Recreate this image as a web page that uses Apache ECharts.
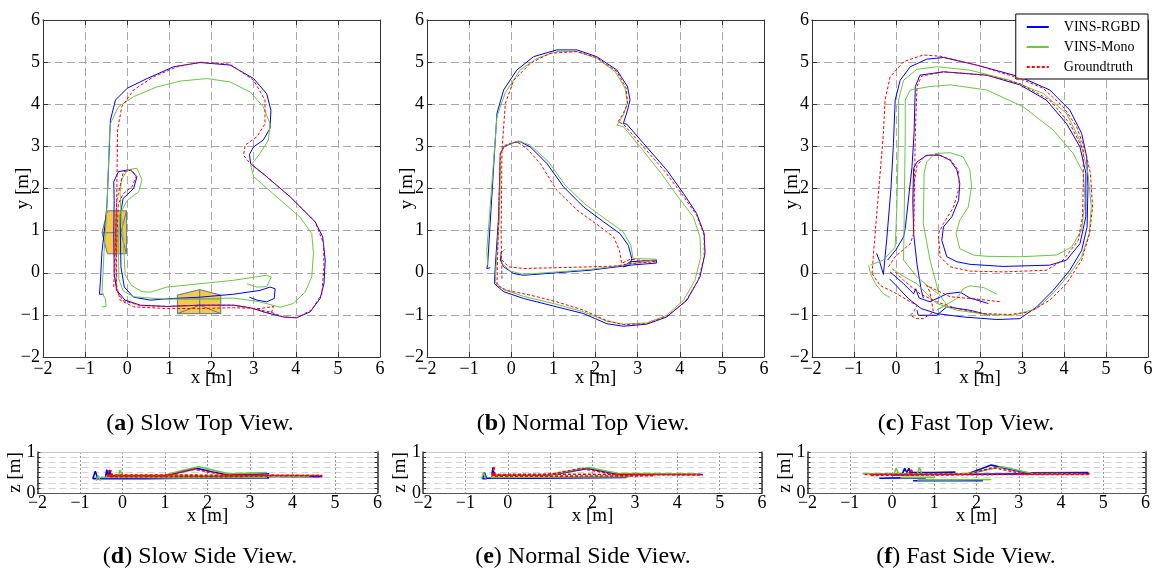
<!DOCTYPE html>
<html>
<head>
<meta charset="utf-8">
<script src="https://cdn.jsdelivr.net/npm/echarts@6/dist/echarts.min.js"></script>
<style>
html,body{margin:0;padding:0;background:#fff;}
#chart{width:1156px;height:574px;}
</style>
</head>
<body>
<div id="chart"></div>
<script>
// ---- Axis ticks ----
const topTicks = [-2, -1, 0, 1, 2, 3, 4, 5, 6];
const zTicks = [0, 1];

// ---- Slow run, top view (x, y in metres), one array per continuous piece ----
const slowTopRGBD = [
  [[-0.56,-0.51],[-0.66,-0.51],[-0.64,-0.24],[-0.6,0.5],[-0.52,1.2],[-0.48,1.64],[-0.44,2.6],[-0.4,3.62],[-0.28,4.1],[0,4.38],[0.47,4.61],[1.1,4.89],[1.73,4.99],[2.44,4.93],[3.0,4.61],[3.31,4.25],[3.41,3.86],[3.39,3.43],[3.23,3.15],[3.0,2.99],[2.9,2.81],[2.93,2.59],[3.31,2.28],[3.87,1.8],[4.46,1.21],[4.64,0.85],[4.7,0.3],[4.67,-0.26],[4.58,-0.61],[4.34,-0.93],[4.02,-1.07],[3.71,-1.05],[3.31,-0.95],[2.92,-0.83],[2.52,-0.77],[1.73,-0.77],[0.94,-0.8],[0.31,-0.77],[-0.05,-0.65],[-0.25,-0.42],[-0.31,-0.02],[-0.32,0.93],[-0.31,1.72],[-0.32,2.16],[-0.21,2.4],[0.07,2.45],[0.23,2.28],[0.15,2.0],[-0.1,1.76],[-0.17,1.33],[-0.15,0.14],[-0.07,-0.34],[0.15,-0.58],[0.55,-0.65],[1.1,-0.61],[1.73,-0.58],[2.52,-0.51],[3.15,-0.42],[3.39,-0.34],[3.51,-0.38],[3.49,-0.61],[3.31,-0.69],[3.08,-0.65],[2.9,-0.58]]
];
const slowTopMono = [
  [[-0.6,-0.81],[-0.5,-0.8],[-0.52,-0.61],[-0.6,-0.49],[-0.55,0.5],[-0.48,1.6],[-0.42,3.3],[-0.4,3.54],[-0.21,3.94],[0.15,4.18],[0.7,4.41],[1.26,4.55],[1.89,4.61],[2.44,4.53],[2.92,4.29],[3.23,3.94],[3.39,3.54],[3.35,3.15],[3.15,2.83],[2.93,2.55],[3.0,2.28],[3.55,1.8],[4.1,1.32],[4.38,0.93],[4.42,0.46],[4.38,-0.1],[4.22,-0.46],[3.94,-0.73],[3.63,-0.82],[3.15,-0.69],[2.52,-0.6],[1.6,-0.62],[0.94,-0.63],[0.15,-0.57],[-0.1,-0.43],[-0.2,-0.15],[-0.21,0.9],[-0.17,1.4],[0.0,1.72],[0.27,1.92],[0.35,2.2],[0.23,2.48],[0.0,2.44],[-0.14,2.2],[-0.17,1.9],[-0.15,1.5],[-0.1,0.9],[-0.05,-0.05],[0.1,-0.3],[0.35,-0.45],[0.55,-0.46],[0.94,-0.34],[1.73,-0.26],[2.52,-0.18],[3.31,-0.06],[3.42,-0.1],[3.31,-0.33],[3.08,-0.34],[2.84,-0.26]]
];
const slowTopGT = [
  [[-0.32,-0.34],[-0.28,0.9],[-0.25,1.72],[-0.23,3.39],[-0.13,3.94],[0.15,4.34],[0.62,4.65],[1.18,4.89],[1.73,5.0],[2.44,4.95],[3.0,4.57],[3.27,4.1],[3.27,3.54],[3.08,3.23],[2.8,3.03],[2.76,2.79],[2.92,2.59],[3.31,2.28],[3.87,1.8],[4.46,1.21],[4.66,0.69],[4.67,0.14],[4.62,-0.5],[4.38,-0.88],[4.02,-1.07],[3.71,-1.05],[3.39,-0.93],[3.0,-0.85],[2.52,-0.77],[1.73,-0.77],[0.94,-0.8],[0.31,-0.78],[-0.1,-0.66],[-0.26,-0.42],[-0.28,0.93],[-0.25,1.72],[-0.09,2.4],[0.11,2.44],[0.21,2.28],[0.11,2.04],[-0.09,1.88],[-0.21,1.64],[-0.25,0.7],[-0.26,-0.26],[-0.17,-0.65],[0.15,-0.81],[0.94,-0.85],[1.73,-0.85],[2.52,-0.83],[3.15,-0.85],[3.47,-0.8],[3.43,-0.93],[3.23,-0.95]]
];

// ---- Normal run, top view ----
const normalTopRGBD = [
  [[-0.5,0.12],[-0.58,0.1],[-0.56,0.2],[-0.48,1.5],[-0.34,3.78],[-0.18,4.34],[0.13,4.81],[0.53,5.13],[1.08,5.29],[1.56,5.29],[2.03,5.13],[2.51,4.81],[2.76,4.42],[2.82,4.1],[2.76,3.86],[2.66,3.54],[2.74,3.53],[3.14,3.07],[3.69,2.44],[4.09,1.88],[4.4,1.41],[4.58,0.93],[4.6,0.46],[4.48,-0.1],[4.17,-0.65],[3.69,-1.05],[3.22,-1.22],[2.66,-1.27],[2.27,-1.21],[1.72,-0.97],[1.08,-0.81],[0.29,-0.61],[-0.18,-0.45],[-0.4,-0.26],[-0.38,0.14],[-0.3,1.33],[-0.26,2.83],[-0.18,2.99],[0.06,3.09],[0.21,3.11],[0.45,2.99],[0.85,2.59],[1.24,2.04],[1.72,1.56],[2.19,1.21],[2.58,0.93],[2.78,0.65],[2.86,0.34],[2.82,0.18],[2.66,0.14],[2.82,0.26],[3.45,0.3],[3.45,0.23],[2.82,0.18],[1.87,0.06],[1.08,0.0],[0.29,-0.06],[0.06,-0.02],[-0.18,0.14],[-0.26,0.3],[-0.24,0.5]]
];
const normalTopMono = [
  [[-0.56,0.18],[-0.58,0.53],[-0.34,3.7],[-0.14,4.28],[0.21,4.81],[0.61,5.09],[1.08,5.25],[1.56,5.25],[2.03,5.09],[2.47,4.77],[2.7,4.38],[2.76,4.02],[2.66,3.74],[2.51,3.5],[2.66,3.47],[3.06,2.99],[3.56,2.36],[3.96,1.8],[4.32,1.33],[4.48,0.85],[4.5,0.38],[4.36,-0.18],[4.09,-0.65],[3.69,-1.01],[3.22,-1.19],[2.66,-1.22],[2.27,-1.15],[1.72,-0.93],[1.08,-0.75],[0.29,-0.56],[-0.18,-0.4],[-0.38,-0.22],[-0.36,0.14],[-0.28,1.33],[-0.25,2.87],[-0.14,3.02],[0.17,3.13],[0.45,3.03],[0.89,2.63],[1.28,2.08],[1.75,1.63],[2.27,1.25],[2.66,0.97],[2.84,0.65],[2.89,0.34],[3.45,0.32],[3.49,0.28],[2.82,0.2],[1.87,0.08],[1.08,0.02],[0.29,-0.04],[-0.02,0.04],[-0.22,0.22],[-0.25,0.46],[-0.14,0.57]]
];
const normalTopGT = [
  [[-0.22,-0.14],[-0.24,0.93],[-0.22,2.91],[-0.14,4.02],[0.06,4.57],[0.45,4.97],[0.92,5.21],[1.56,5.25],[2.03,5.11],[2.51,4.77],[2.73,4.38],[2.76,4.02],[2.66,3.78],[2.53,3.58],[2.66,3.53],[3.1,3.03],[3.65,2.4],[4.07,1.84],[4.4,1.37],[4.58,0.89],[4.58,0.38],[4.44,-0.18],[4.13,-0.69],[3.69,-1.03],[3.22,-1.21],[2.66,-1.23],[2.27,-1.14],[1.72,-0.89],[1.08,-0.69],[0.45,-0.53],[-0.1,-0.42],[-0.34,-0.3],[-0.32,0.53],[-0.26,2.83],[-0.14,3.03],[0.13,3.11],[0.37,2.95],[0.69,2.59],[1.08,1.96],[1.56,1.49],[2.11,1.09],[2.43,0.85],[2.57,0.53],[2.62,0.22],[2.82,0.32],[3.45,0.26],[2.82,0.22],[2.5,0.16],[1.87,0.14],[1.08,0.12],[0.29,0.1],[-0.06,0.14],[-0.22,0.3]]
];

// ---- Fast run, top view ----
const fastTopRGBD = [
  [[-0.46,0.46],[-0.4,0.3],[-0.3,-0.04],[-0.22,0.8],[-0.12,2.0],[-0.06,3.07],[-0.02,4.1],[0.1,4.57],[0.34,4.89],[0.73,5.07],[1.13,5.11],[1.92,4.93],[2.95,4.65],[3.66,4.34],[4.14,3.86],[4.42,3.31],[4.54,2.75],[4.57,2.04],[4.55,1.09],[4.42,0.53],[4.14,0.06],[3.74,-0.42],[3.35,-0.81],[2.95,-1.09],[2.4,-1.11],[1.6,-1.05],[0.97,-0.97],[0.6,-0.85],[0.3,-0.62],[0.0,-0.3],[-0.15,-0.15]],
  [[-0.2,0.3],[0.0,0.55],[0.18,0.85],[0.22,1.05],[0.38,2.5],[0.43,3.31],[0.46,4.42],[0.57,4.69],[1.13,4.77],[2.16,4.69],[2.95,4.46],[3.58,4.1],[4.06,3.54],[4.38,2.99],[4.52,2.36],[4.52,1.33],[4.38,0.69],[4.06,0.3],[3.66,0.18],[2.55,0.15],[1.76,0.2],[1.45,0.26],[1.21,0.38],[1.09,0.77],[1.13,1.09],[1.33,1.33],[1.49,1.72],[1.52,2.12],[1.45,2.44],[1.29,2.67],[1.05,2.79],[0.73,2.79],[0.5,2.63],[0.42,2.48],[0.4,1.72],[0.42,0.93],[0.5,0.2],[0.6,-0.4],[0.65,-0.6]],
  [[-0.14,0.02],[0.18,-0.26],[0.42,-0.5],[0.47,-0.38],[0.55,-0.6],[0.81,-0.69],[1.21,-0.5],[1.53,-0.46],[1.76,-0.6],[2.2,-0.73]],
  [[0.5,-0.89],[0.53,-1.01],[0.97,-1.01],[1.21,-0.81],[1.76,-0.89],[2.24,-1.01]]
];
const fastTopMono = [
  [[-0.61,0.18],[-0.3,0.3],[-0.02,0.61],[0.02,1.56],[0.06,3.31],[0.06,4.1],[0.18,4.57],[0.5,4.83],[0.97,4.89],[1.76,4.81],[2.71,4.57],[3.5,4.26],[4.06,3.78],[4.38,3.15],[4.57,2.36],[4.65,1.56],[4.6,0.93],[4.42,0.38],[4.14,-0.02],[3.74,-0.49],[3.35,-0.85],[2.79,-1.01],[2.16,-0.99],[1.45,-0.89],[0.97,-0.73],[0.73,-0.5],[0.5,-0.26],[0.2,-0.1],[-0.1,0.1]],
  [[0.97,-0.89],[1.2,-0.75],[1.01,-0.49],[0.97,-0.3],[0.81,0.3],[0.65,1.17],[0.67,2.36],[0.73,2.63],[0.93,2.83],[1.29,2.85],[1.6,2.75],[1.76,2.44],[1.8,2.04],[1.72,1.56],[1.52,1.25],[1.43,0.93],[1.52,0.57],[1.84,0.42],[2.16,0.39],[2.95,0.38],[3.82,0.42],[4.18,0.61],[4.42,1.01],[4.5,1.72],[4.46,2.36],[4.22,2.83],[3.74,3.39],[3.03,3.94],[2.16,4.34],[1.29,4.46],[0.81,4.42],[0.34,4.34],[0.22,4.1],[0.22,3.31],[0.19,0.93],[0.18,0.3],[0.5,-0.1],[0.8,-0.35],[1.0,-0.5]],
  [[-0.65,0.18],[-0.61,-0.02],[-0.49,-0.26],[-0.3,-0.5],[-0.14,-0.59]],
  [[0.97,-0.89],[1.45,-0.61],[1.6,-0.38],[1.76,-0.31],[2.08,-0.35],[2.4,-0.51]]
];
const fastTopGT = [
  [[-0.57,-0.02],[-0.53,0.53],[-0.3,3.31],[-0.26,4.1],[-0.14,4.65],[0.18,5.01],[0.65,5.17],[1.05,5.14],[1.92,4.93],[2.95,4.61],[3.5,4.38],[3.98,3.94],[4.3,3.47],[4.5,2.91],[4.63,2.36],[4.68,1.56],[4.61,0.93],[4.42,0.3],[4.06,-0.26],[3.66,-0.65],[3.19,-0.93],[2.71,-0.99],[2.08,-0.97],[1.45,-0.85],[0.97,-0.69],[0.57,-0.5],[0.18,-0.18],[-0.06,0.06]],
  [[-0.18,0.14],[-0.02,0.38],[0.34,0.69],[0.42,0.93],[0.46,3.31],[0.5,4.42],[0.61,4.67],[1.13,4.77],[2.16,4.69],[2.95,4.49],[3.66,4.1],[4.14,3.54],[4.46,2.91],[4.46,2.12],[4.44,1.33],[4.34,0.77],[3.98,0.3],[3.58,0.06],[2.55,0.02],[1.76,0.04],[1.29,0.14],[1.05,0.38],[1.01,0.93],[1.13,1.17],[1.37,1.56],[1.51,2.04],[1.48,2.44],[1.29,2.69],[0.97,2.81],[0.69,2.77],[0.5,2.55],[0.43,2.12],[0.42,0.93]],
  [[-0.57,-0.02],[-0.38,-0.3],[0.02,-0.5],[0.34,-0.69],[0.5,-0.77],[0.42,-0.93],[0.34,-1.01],[0.5,-1.09],[0.65,-1.09],[0.89,-0.93],[0.81,-0.46],[0.73,-0.3],[0.89,-0.38],[1.29,-0.57],[1.76,-0.61],[2.16,-0.65],[2.48,-0.69]]
];

// ---- Side views (x, z in metres) ----
const slowSideRGBD = [
  [[-0.7,0.35],[-0.64,0.53],[-0.58,0.35],[-0.7,0.35]],
  [[-0.4,0.38],[-0.37,0.57],[-0.34,0.4],[-0.3,0.56],[-0.27,0.4]],
  [[-0.6,0.35],[0.5,0.35],[1.5,0.36],[2.5,0.36],[3.45,0.37]],
  [[-0.3,0.4],[0.9,0.4],[1.4,0.52],[1.75,0.6],[2.1,0.52],[2.5,0.44],[3.45,0.47]],
  [[-0.3,0.42],[1,0.42],[2.5,0.41],[4.4,0.4],[4.7,0.4]]
];
const slowSideMono = [
  [[-0.62,0.3],[-0.57,0.42],[-0.52,0.3]],
  [[-0.1,0.4],[-0.06,0.56],[0,0.42]],
  [[-0.5,0.38],[0.5,0.38],[1.5,0.37],[3.4,0.38]],
  [[-0.2,0.41],[0.9,0.41],[1.4,0.55],[1.8,0.64],[2.2,0.54],[2.5,0.47],[3.4,0.5]],
  [[-0.2,0.43],[1,0.43],[2.5,0.42],[4.4,0.4]]
];
const slowSideGT = [
  [[-0.35,0.4],[-0.33,0.55],[-0.3,0.42],[-0.27,0.55],[-0.24,0.42]],
  [[-0.35,0.42],[1,0.42],[1.68,0.58],[2.4,0.44],[4.7,0.43]],
  [[-0.3,0.4],[1,0.4],[2.5,0.4],[3.5,0.42]],
  [[-0.3,0.44],[1,0.44],[2.5,0.43],[4.7,0.42]]
];
const normalSideRGBD = [
  [[-0.6,0.35],[-0.55,0.5],[-0.5,0.35],[-0.6,0.35]],
  [[-0.38,0.4],[-0.35,0.62],[-0.32,0.42]],
  [[-0.5,0.36],[0.5,0.36],[1.5,0.37],[2.8,0.38]],
  [[-0.35,0.44],[1,0.44],[1.9,0.6],[2.6,0.46],[4.6,0.45]]
];
const normalSideMono = [
  [[-0.62,0.35],[-0.57,0.5],[-0.52,0.35]],
  [[-0.4,0.44],[1,0.45],[1.9,0.62],[2.6,0.48],[4.5,0.46]],
  [[-0.4,0.38],[1.5,0.39],[2.9,0.4]]
];
const normalSideGT = [
  [[-0.36,0.42],[-0.33,0.65],[-0.3,0.44]],
  [[-0.35,0.43],[0.9,0.44],[1.75,0.6],[2.5,0.45],[4.6,0.44]],
  [[-0.35,0.45],[1,0.46],[2.5,0.45],[4.6,0.45]],
  [[-0.3,0.41],[1,0.41],[3.45,0.42]]
];
const fastSideRGBD = [
  [[0.25,0.48],[0.3,0.6],[0.35,0.5],[0.4,0.6],[0.45,0.48]],
  [[-0.3,0.36],[0.2,0.37],[0.8,0.37]],
  [[0.5,0.3],[1.2,0.3],[2.15,0.3]],
  [[0.4,0.5],[1,0.5],[1.5,0.51]],
  [[-0.5,0.45],[0.5,0.46],[1.8,0.47],[2.35,0.68],[3.2,0.49],[4.65,0.5]],
  [[0,0.44],[1,0.45],[2.5,0.46],[4.65,0.48]]
];
const fastSideMono = [
  [[0.05,0.48],[0.1,0.6],[0.15,0.48]],
  [[0.6,0.48],[0.65,0.62],[0.7,0.48]],
  [[-0.7,0.47],[0.5,0.47],[1.8,0.47],[2.6,0.64],[3.3,0.48],[4.5,0.47]],
  [[0.6,0.32],[1.5,0.32],[2.35,0.33]],
  [[0.2,0.38],[1,0.38]]
];
const fastSideGT = [
  [[0.4,0.48],[0.45,0.58],[0.5,0.48]],
  [[-0.65,0.45],[0.5,0.46],[1.8,0.46],[2.4,0.62],[3.1,0.47],[4.68,0.47]],
  [[-0.5,0.43],[1,0.44],[2.5,0.45],[4.68,0.45]]
];

// ---- Camera glyphs drawn on the slow top view ----
const camLeftOutline = [[-0.47,1.47],[-0.02,1.47],[-0.02,0.45],[-0.47,0.45],[-0.6,0.95]];
const camLeftLines = [[[-0.6,0.95],[-0.25,0.95]],[[-0.25,1.47],[-0.25,0.45]],[[-0.02,1.47],[-0.15,0.95],[-0.02,0.45]]];
const camBottomOutline = [[1.19,-0.53],[1.72,-0.4],[2.22,-0.53],[2.22,-0.97],[1.19,-0.97]];
const camBottomLines = [[[1.72,-0.4],[1.72,-0.97]],[[1.19,-0.62],[2.22,-0.62]],[[1.19,-0.97],[1.72,-0.77],[2.22,-0.97]]];

// ---- Captions ----
const captionsTop = [['a','Slow Top View.'],['b','Normal Top View.'],['c','Fast Top View.']];
const captionsSide = [['d','Slow Side View.'],['e','Normal Side View.'],['f','Fast Side View.']];

const NAMES = ['VINS-RGBD', 'VINS-Mono', 'Groundtruth'];
const COLORS = ['#0000ff', '#6cc644', '#ff0000'];
const FONT = '"Liberation Serif", "DejaVu Serif", serif';

const topGrids = [
  {left: 43, top: 20, width: 337, height: 337},
  {left: 427, top: 20, width: 337, height: 337},
  {left: 812, top: 20, width: 336, height: 337}
];
const sideGrids = [
  {left: 37.5, top: 452, width: 340, height: 41},
  {left: 423, top: 452, width: 339, height: 41},
  {left: 807.5, top: 452, width: 338, height: 41}
];

const minus = v => String(v).replace('-', '\u2212');
const tickFont = {fontFamily: FONT, fontSize: 18, color: '#000'};
const nameFont = {fontFamily: FONT, fontSize: 19, color: '#000'};

const grids = topGrids.concat(sideGrids);
const xAxes = [], yAxes = [];

// main axes (indices 0..5)
topGrids.forEach((g, i) => {
  xAxes.push({
    gridIndex: i, type: 'value', min: topTicks[0], max: topTicks[topTicks.length - 1], interval: 1,
    position: 'bottom',
    axisLine: {show: true, onZero: false, lineStyle: {color: '#333', width: 1}},
    axisTick: {show: true, inside: true, length: 5, lineStyle: {color: '#333'}},
    axisLabel: {formatter: minus, margin: 3, ...tickFont},
    splitLine: {show: true, lineStyle: {color: '#a8a8a8', width: 1, type: [8, 4]}},
    name: 'x [m]', nameLocation: 'middle', nameGap: 12, nameMoveOverlap: false,
    nameTextStyle: nameFont
  });
  yAxes.push({
    gridIndex: i, type: 'value', min: topTicks[0], max: topTicks[topTicks.length - 1], interval: 1,
    position: 'left',
    axisLine: {show: true, onZero: false, lineStyle: {color: '#333', width: 1}},
    axisTick: {show: true, inside: true, length: 5, lineStyle: {color: '#333'}},
    axisLabel: {formatter: minus, margin: 3, ...tickFont},
    splitLine: {show: true, lineStyle: {color: '#a8a8a8', width: 1, type: [8, 4]}},
    name: 'y [m]', nameLocation: 'middle', nameGap: 10, nameMoveOverlap: false,
    nameTextStyle: nameFont
  });
});
sideGrids.forEach((g, k) => {
  const i = k + 3;
  xAxes.push({
    gridIndex: i, type: 'value', min: topTicks[0], max: topTicks[topTicks.length - 1], interval: 1,
    position: 'bottom',
    axisLine: {show: true, onZero: false, lineStyle: {color: '#555', width: 1}},
    axisTick: {show: false},
    axisLabel: {formatter: minus, margin: 1, ...tickFont},
    splitLine: {show: true, lineStyle: {color: '#999', width: 1, type: [2, 2]}},
    name: 'x [m]', nameLocation: 'middle', nameGap: 14, nameMoveOverlap: false,
    nameTextStyle: nameFont
  });
  yAxes.push({
    gridIndex: i, type: 'value', min: zTicks[0], max: zTicks[1], interval: 0.125,
    position: 'left',
    axisLine: {show: true, onZero: false, lineStyle: {color: '#333', width: 1.5}},
    axisTick: {show: true, inside: true, length: 3, lineStyle: {color: '#333'}},
    axisLabel: {formatter: v => (zTicks.includes(v) ? String(v) : ''), margin: 2, ...tickFont},
    splitLine: {show: true, lineStyle: {color: '#d4d4d4', width: 1, type: [7, 4]}},
    name: 'z [m]', nameLocation: 'middle', nameGap: 13, nameMoveOverlap: false,
    nameTextStyle: nameFont
  });
});
// frame axes on top / right (indices 6..11)
grids.forEach((g, i) => {
  const side = i >= 3;
  xAxes.push({
    gridIndex: i, type: 'value', min: -2, max: 6, interval: 1, position: 'top',
    axisLine: {show: true, onZero: false, lineStyle: {color: side ? '#c8c8c8' : '#333', width: 1}},
    axisTick: {show: !side, inside: true, length: 5, lineStyle: {color: '#333'}},
    axisLabel: {show: false}, splitLine: {show: false}
  });
  yAxes.push({
    gridIndex: i, type: 'value', min: side ? 0 : -2, max: side ? 1 : 6, interval: side ? 0.125 : 1,
    position: 'right',
    axisLine: {show: true, onZero: false, lineStyle: {color: '#333', width: side ? 1.5 : 1}},
    axisTick: {show: true, inside: true, length: side ? 3 : 5, lineStyle: {color: '#333'}},
    axisLabel: {show: false}, splitLine: {show: false}
  });
});

const series = [];

// camera glyphs
function cameraSeries(outline, lines) {
  return {
    type: 'custom', coordinateSystem: 'cartesian2d', xAxisIndex: 0, yAxisIndex: 0,
    silent: true, z: 1, clip: true,
    data: [outline[0]],
    renderItem: (params, api) => ({
      type: 'group',
      children: [
        {type: 'polygon', shape: {points: outline.map(p => api.coord(p))},
         style: {fill: '#f6c84c', stroke: '#5b7896', lineWidth: 1}}
      ].concat(lines.map(l => ({
        type: 'polyline', shape: {points: l.map(p => api.coord(p))},
        style: {fill: null, stroke: '#5b7896', lineWidth: 1}
      })))
    })
  };
}
series.push(cameraSeries(camLeftOutline, camLeftLines));
series.push(cameraSeries(camBottomOutline, camBottomLines));

function addRun(gridIdx, runs, width) {
  runs.forEach((segs, t) => {
    segs.forEach(seg => {
      series.push({
        type: 'line', name: NAMES[t], xAxisIndex: gridIdx, yAxisIndex: gridIdx,
        data: seg, showSymbol: false, symbol: 'none', silent: true, z: 2 + t,
        clip: true, animation: false,
        lineStyle: {color: COLORS[t], width: width, type: t === 2 ? [3, 2] : 'solid'},
        itemStyle: {color: COLORS[t]}
      });
    });
  });
}
addRun(0, [slowTopRGBD, slowTopMono, slowTopGT], 1);
addRun(1, [normalTopRGBD, normalTopMono, normalTopGT], 1);
addRun(2, [fastTopRGBD, fastTopMono, fastTopGT], 1);
addRun(3, [slowSideRGBD, slowSideMono, slowSideGT], 1.6);
addRun(4, [normalSideRGBD, normalSideMono, normalSideGT], 1.6);
addRun(5, [fastSideRGBD, fastSideMono, fastSideGT], 1.6);

// caption texts
const graphic = [];
const capX = [200, 583, 966];
function caption(x, y, c) {
  return {
    type: 'text', x: x, y: y, silent: true,
    style: {
      text: '({b|' + c[0] + '}) ' + c[1],
      x: 0, y: 0, align: 'center', verticalAlign: 'middle',
      font: '24px ' + FONT, fill: '#000',
      rich: {b: {fontWeight: 'bold', fontSize: 24, fontFamily: FONT}}
    }
  };
}
captionsTop.forEach((c, i) => graphic.push(caption(capX[i], 424, c)));
captionsSide.forEach((c, i) => graphic.push(caption(capX[i], 557, c)));

const chart = echarts.init(document.getElementById('chart'), null, {renderer: 'canvas'});
chart.setOption({
  animation: false,
  backgroundColor: '#fff',
  grid: grids,
  xAxis: xAxes,
  yAxis: yAxes,
  legend: {
    data: NAMES, orient: 'vertical', right: 8, top: 14,
    itemWidth: 22, itemHeight: 10, itemGap: 6,
    padding: [6, 8, 5, 10],
    backgroundColor: '#fff', borderColor: '#000', borderWidth: 1, borderRadius: 0,
    selectedMode: false,
    itemStyle: {opacity: 0},
    textStyle: {fontFamily: FONT, fontSize: 14, color: '#000', padding: [0, 0, 0, 10]}
  },
  series: series,
  graphic: graphic
});
</script>
</body>
</html>
